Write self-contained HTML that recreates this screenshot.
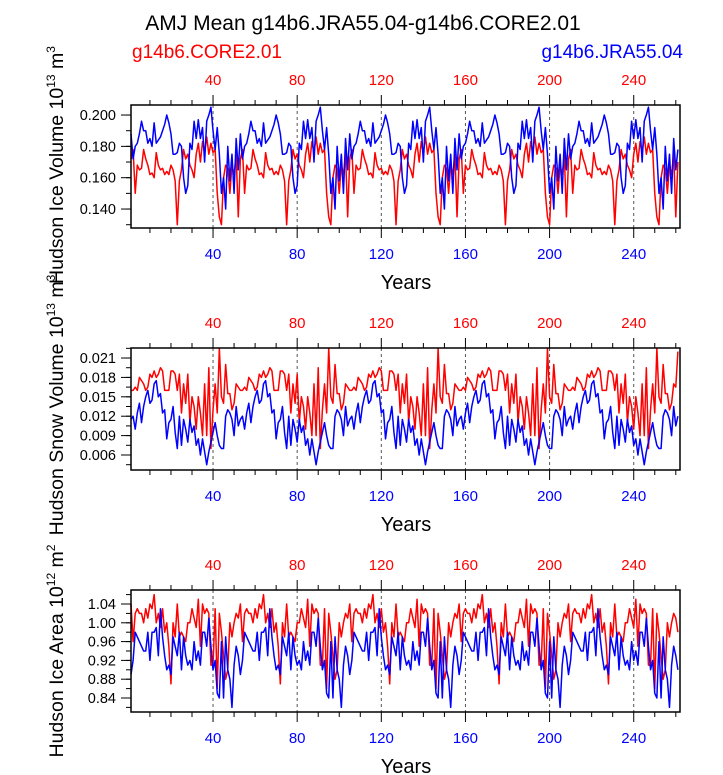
<!DOCTYPE html>
<html><head><meta charset="utf-8"><style>
html,body{margin:0;padding:0;background:#fff;}
svg{display:block;font-family:"Liberation Sans",Arial,sans-serif;}
</style></head><body>
<svg id="chart" width="723" height="775" xmlns="http://www.w3.org/2000/svg">
<text x="363" y="30" font-size="21" text-anchor="middle">AMJ Mean g14b6.JRA55.04-g14b6.CORE2.01</text>
<text x="132" y="58" font-size="19" fill="#f00">g14b6.CORE2.01</text>
<text x="683" y="58" font-size="19" fill="#00f" text-anchor="end">g14b6.JRA55.04</text>
</svg>
<script>
const redCycle1=[0.172,0.178,0.150,0.168,0.165,0.166,0.178,0.172,0.168,0.162,0.163,0.160,0.176,0.168,0.165,0.166,0.162,0.164,0.162,0.168,0.165,0.158,0.130,0.158,0.165,0.178,0.172,0.175,0.168,0.165,0.160,0.175,0.182,0.170,0.183,0.176,0.186,0.175,0.182,0.176,0.178,0.150,0.135,0.130,0.160,0.168,0.166,0.150,0.168,0.162,0.175,0.135];
const blueCycle1=[0.188,0.172,0.180,0.182,0.188,0.196,0.190,0.190,0.182,0.185,0.180,0.195,0.182,0.184,0.186,0.190,0.194,0.200,0.195,0.188,0.175,0.175,0.176,0.182,0.180,0.160,0.150,0.155,0.182,0.178,0.196,0.185,0.197,0.185,0.192,0.170,0.196,0.200,0.205,0.190,0.178,0.192,0.175,0.150,0.160,0.140,0.180,0.158,0.175,0.150,0.185,0.165];
const redCycle2=[0.0160,0.0160,0.0165,0.0160,0.0180,0.0175,0.0170,0.0160,0.0165,0.0185,0.0180,0.0190,0.0180,0.0185,0.0195,0.0190,0.0160,0.0160,0.0160,0.0190,0.0190,0.0185,0.0160,0.0185,0.0125,0.0170,0.0140,0.0185,0.0110,0.0150,0.0135,0.0100,0.0150,0.0125,0.0090,0.0170,0.0090,0.0195,0.0070,0.0130,0.0170,0.0125,0.0225,0.0150,0.0140,0.0200,0.0155,0.0155,0.0130,0.0140,0.0170,0.0165];
const blueCycle2=[0.0115,0.0120,0.0100,0.0125,0.0140,0.0110,0.0135,0.0150,0.0160,0.0140,0.0145,0.0170,0.0175,0.0150,0.0155,0.0125,0.0130,0.0085,0.0110,0.0115,0.0135,0.0095,0.0070,0.0120,0.0075,0.0115,0.0100,0.0080,0.0115,0.0095,0.0105,0.0075,0.0085,0.0060,0.0085,0.0065,0.0045,0.0065,0.0080,0.0095,0.0110,0.0090,0.0075,0.0070,0.0070,0.0120,0.0130,0.0125,0.0115,0.0090,0.0135,0.0105];
const redCycle3=[1.04,0.96,1.02,1.03,1.02,1.02,1.00,1.03,1.01,1.04,1.03,1.06,1.00,1.02,0.99,1.03,0.98,1.00,0.95,0.87,1.00,0.97,1.04,0.97,0.98,0.97,0.96,1.00,1.00,1.03,1.01,0.99,1.05,0.95,1.04,1.02,1.03,1.02,0.91,0.91,1.03,0.86,1.02,0.98,0.93,0.88,0.90,1.00,0.97,1.00,1.02,1.01];
const blueCycle3=[0.89,0.92,0.98,0.97,0.96,0.95,0.94,0.94,0.98,0.92,0.98,0.98,0.99,0.93,1.03,0.97,0.93,0.90,0.91,0.89,0.97,0.95,0.93,0.98,0.90,0.97,0.93,0.91,0.92,0.90,0.96,0.92,0.94,0.91,0.98,0.98,0.95,1.01,0.95,0.90,0.92,0.85,0.84,0.96,0.84,0.97,0.90,0.88,0.82,0.91,0.95,0.93];
const redVol=[].concat(redCycle1,redCycle1,redCycle1,redCycle1,redCycle1,[0.170]);
const blueVol=[].concat(blueCycle1,blueCycle1,blueCycle1,blueCycle1,blueCycle1,[0.178]);
const redSnow=[].concat(redCycle2,redCycle2,redCycle2,redCycle2,redCycle2,[0.0220]);
const blueSnow=[].concat(blueCycle2,blueCycle2,blueCycle2,blueCycle2,blueCycle2,[0.0120]);
const redArea=[].concat(redCycle3,redCycle3,redCycle3,redCycle3,redCycle3,[0.98]);
const blueArea=[].concat(blueCycle3,blueCycle3,blueCycle3,blueCycle3,blueCycle3,[0.90]);
const xTicks=[40,80,120,160,200,240];
const yTicks1=[0.140,0.160,0.180,0.200];
const yTicks2=[0.006,0.009,0.012,0.015,0.018,0.021];
const yTicks3=[0.84,0.88,0.92,0.96,1.00,1.04];

const NS='http://www.w3.org/2000/svg';
const svg=document.getElementById('chart');
function mk(tag,attrs,parent){const e=document.createElementNS(NS,tag);for(const k in attrs)e.setAttribute(k,attrs[k]);(parent||svg).appendChild(e);return e;}
const X0=131,X1=680,XMIN=1,XMAX=262;
function xs(v){return X0+(v-XMIN)/(XMAX-XMIN)*(X1-X0);}

const panels=[
 {top:105,bot:228,ymin:0.1279,ymax:0.2064,ticks:yTicks1,minor:0.01,dec:3,red:redVol,blue:blueVol,name:'ice-volume',title:'Hudson Ice Volume 10',sup:'13',unit:' m',usup:'3',tc:165},
 {top:348,bot:470,ymin:0.00368,ymax:0.02255,ticks:yTicks2,minor:0.0015,dec:3,red:redSnow,blue:blueSnow,name:'snow-volume',title:'Hudson Snow Volume 10',sup:'13',unit:' m',usup:'3',tc:405},
 {top:590,bot:712,ymin:0.8102,ymax:1.0698,ticks:yTicks3,minor:0.02,dec:2,red:redArea,blue:blueArea,name:'ice-area',title:'Hudson Ice Area 10',sup:'12',unit:' m',usup:'2',tc:651}
];
panels.forEach((p,pi)=>{
  const g=mk('g',{});
  
  
  const ys=v=>p.bot-(v-p.ymin)/(p.ymax-p.ymin)*(p.bot-p.top);
  xTicks.forEach(t=>{const l=mk('line',{x1:xs(t),x2:xs(t),y1:p.top,y2:p.bot,stroke:'#555','stroke-width':1,'stroke-dasharray':'3,3'},g);
    
    });
  [['red',p.red,'#f00'],['blue',p.blue,'#00f']].forEach(([nm,arr,c])=>{
    const d=arr.map((v,i)=>(i?'L':'M')+xs(i+1).toFixed(2)+','+ys(Math.max(p.ymin,Math.min(p.ymax,v))).toFixed(2)).join('');
    const path=mk('path',{d:d,fill:'none',stroke:c,'stroke-width':1.5,'stroke-linejoin':'round'},g);
    
    
  });
  const box=mk('rect',{x:X0,y:p.top,width:X1-X0,height:p.bot-p.top,fill:'none',stroke:'#000','stroke-width':1.5},g);
  
  
  for(let t=10;t<=260;t+=10){const maj=t%40===0;const L=maj?10:5;
    mk('line',{x1:xs(t),x2:xs(t),y1:p.bot,y2:p.bot+L,stroke:'#000','stroke-width':1},g);
    mk('line',{x1:xs(t),x2:xs(t),y1:p.top,y2:p.top-L,stroke:'#000','stroke-width':1},g);}
  xTicks.forEach(t=>{
    const a=mk('text',{x:xs(t),y:p.bot+31,'font-size':15,fill:'#00f','text-anchor':'middle'},g);a.textContent=t;
    
    
    const b=mk('text',{x:xs(t),y:p.top-20,'font-size':15,fill:'#f00','text-anchor':'middle'},g);b.textContent=t;
    
    
  });
  const xt=mk('text',{x:406,y:p.bot+61,'font-size':20,'text-anchor':'middle'},g);xt.textContent='Years';
  
  
  const t0=p.ticks[0]-p.minor*Math.floor((p.ticks[0]-p.ymin)/p.minor);
  for(let v=t0;v<=p.ymax+1e-9;v+=p.minor){
    mk('line',{x1:X0,x2:X0-5,y1:ys(v),y2:ys(v),stroke:'#000','stroke-width':1},g);}
  p.ticks.forEach(v=>{
    mk('line',{x1:X0,x2:X0-10,y1:ys(v),y2:ys(v),stroke:'#000','stroke-width':1},g);
    const tl=mk('text',{x:X0-15,y:ys(v)+5,'font-size':14.5,'text-anchor':'end'},g);tl.textContent=v.toFixed(p.dec);
    
    
  });
  const yt=mk('text',{x:0,y:0,'font-size':19.5,'text-anchor':'middle',transform:'translate(63,'+p.tc+') rotate(-90)'},g);
  
  
  yt.appendChild(document.createTextNode(p.title));
  const s1=mk('tspan',{dy:-8,'font-size':12},yt);s1.textContent=p.sup;
  const s2=mk('tspan',{dy:8},yt);s2.textContent=p.unit;
  const s3=mk('tspan',{dy:-8,'font-size':12},yt);s3.textContent=p.usup;
});
</script>
</body></html>
